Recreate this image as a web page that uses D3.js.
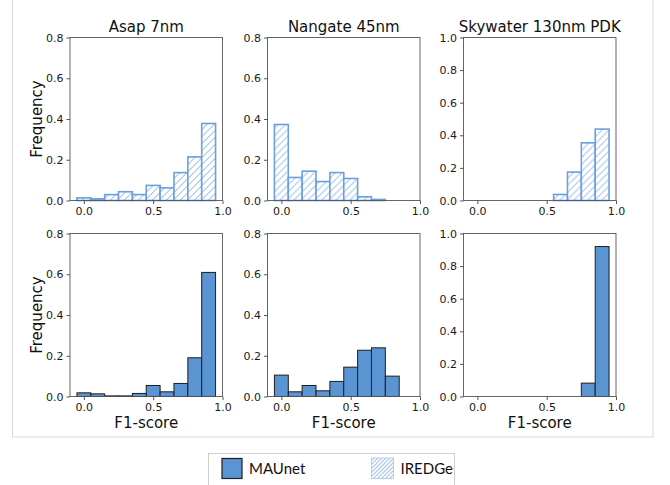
<!DOCTYPE html>
<html>
<head>
<meta charset="utf-8">
<script src="https://cdn.jsdelivr.net/npm/d3@7"></script>
<style>
  html, body { margin: 0; padding: 0; background: #fff; }
  svg { display: block; }
</style>
</head>
<body>
<svg id="fig" width="670" height="485"></svg>
<script>
// Histogram bins: left edges, each 0.1 wide
const binEdges = [-0.05, 0.05, 0.15, 0.25, 0.35, 0.45, 0.55, 0.65, 0.75, 0.85];
const binWidth = 0.1;

const pdks = ["Asap 7nm", "Nangate 45nm", "Skywater 130nm PDK"];
const yMaxByPdk = [0.8, 0.8, 1.0];

// Relative frequency of F1-scores per bin
const iredgeAsap     = [0.013, 0.008, 0.029, 0.043, 0.029, 0.074, 0.062, 0.137, 0.214, 0.378];
const iredgeNangate  = [0.373, 0.113, 0.144, 0.093, 0.137, 0.108, 0.018, 0.005, 0.0, 0.0];
const iredgeSkywater = [0.0, 0.0, 0.0, 0.0, 0.0, 0.0, 0.037, 0.174, 0.354, 0.438];

const maunetAsap     = [0.018, 0.013, 0.003, 0.003, 0.015, 0.054, 0.023, 0.064, 0.190, 0.609];
const maunetNangate  = [0.105, 0.023, 0.054, 0.028, 0.074, 0.144, 0.227, 0.239, 0.100, 0.0];
const maunetSkywater = [0.0, 0.0, 0.0, 0.0, 0.0, 0.0, 0.0, 0.0, 0.082, 0.920];

const xTicks = [0.0, 0.5, 1.0];
const yTicks08 = [0.0, 0.2, 0.4, 0.6, 0.8];
const yTicks10 = [0.0, 0.2, 0.4, 0.6, 0.8, 1.0];

const legendLabels = ["MAUnet", "IREDGe"];

const rows = [
  { model: "IREDGe", series: [iredgeAsap, iredgeNangate, iredgeSkywater] },
  { model: "MAUnet", series: [maunetAsap, maunetNangate, maunetSkywater] }
];

const svg = d3.select("#fig");
const FONT = "DejaVu Sans, sans-serif";
const HATCH = "#6d9fdc";
const FILL = "#5b94d3";

// Hatch patterns for the IREDGe bars and legend swatch
const defs = svg.append("defs");
function hatch(id, color, step, sw) {
  const p = defs.append("pattern")
    .attr("id", id).attr("patternUnits", "userSpaceOnUse")
    .attr("width", step).attr("height", step);
  p.append("rect").attr("width", step).attr("height", step).attr("fill", "#fff");
  p.append("path")
    .attr("d", `M0,${step} L${step},0 M${-step/2},${step/2} L${step/2},${-step/2} M${step/2},${step*1.5} L${step*1.5},${step/2}`)
    .attr("stroke", color).attr("stroke-width", sw);
}
hatch("hatchBar", HATCH, 7, 0.9);
hatch("hatchLegend", "#a9c7ea", 4, 1.2);

// Outer figure frame
svg.append("rect")
  .attr("x", 12.5).attr("y", -2).attr("width", 640.5).attr("height", 439)
  .attr("fill", "none").attr("stroke", "#d9d9d9").attr("stroke-width", 1);

const colLeft = [70, 267.5, 463.5];
const rowTop = [37.5, 233.5];
const axW = 152.5, axH = 163;

rows.forEach((row, ri) => {
  pdks.forEach((pdk, ci) => {
    const g = svg.append("g")
      .attr("transform", `translate(${colLeft[ci]},${rowTop[ri]})`);
    const x = d3.scaleLinear().domain([-0.1, 1.0]).range([0, axW]);
    const y = d3.scaleLinear().domain([0, yMaxByPdk[ci]]).range([axH, 0]);
    const vals = row.series[ci];
    const isHatch = row.model === "IREDGe";

    g.selectAll("rect.bar").data(vals).join("rect")
      .attr("class", "bar")
      .attr("x", (d, i) => x(binEdges[i]))
      .attr("width", (d, i) => x(binEdges[i] + binWidth) - x(binEdges[i]))
      .attr("y", d => y(d))
      .attr("height", d => y(0) - y(d))
      .attr("fill", isHatch ? "url(#hatchBar)" : FILL)
      .attr("stroke", isHatch ? HATCH : "#1e1e1e")
      .attr("stroke-width", isHatch ? 1.6 : 1);

    // Spines
    g.append("rect").attr("width", axW).attr("height", axH)
      .attr("fill", "none").attr("stroke", "#555").attr("stroke-width", 0.9);

    const yt = ci === 2 ? yTicks10 : yTicks08;
    const xAxis = d3.axisBottom(x).tickValues(xTicks).tickFormat(d3.format(".1f"))
      .tickSize(3.5).tickPadding(3);
    const yAxis = d3.axisLeft(y).tickValues(yt).tickFormat(d3.format(".1f"))
      .tickSize(3.5).tickPadding(3);
    const gx = g.append("g").attr("transform", `translate(0,${axH})`).call(xAxis);
    const gy = g.append("g").call(yAxis);
    [gx, gy].forEach(a => {
      a.select(".domain").remove();
      a.selectAll("line").attr("stroke", "#444").attr("stroke-width", 0.9);
      a.selectAll("text").attr("fill", "#1a1a1a").style("font-family", FONT).style("font-size", "11px");
    });

    if (ri === 0) {
      g.append("text").attr("x", axW / 2).attr("y", -5.5)
        .attr("text-anchor", "middle").attr("fill", "#111")
        .style("font-family", FONT).style("font-size", "15px").text(pdk);
    }
    if (ri === 1) {
      g.append("text").attr("x", axW / 2).attr("y", axH + 31.5)
        .attr("text-anchor", "middle").attr("fill", "#111")
        .style("font-family", FONT).style("font-size", "15px").text("F1-score");
    }
    if (ci === 0) {
      g.append("text")
        .attr("transform", `translate(${-28},${axH / 2}) rotate(-90)`)
        .attr("text-anchor", "middle").attr("fill", "#111")
        .style("font-family", FONT).style("font-size", "15px").text("Frequency");
    }
  });
});

// Legend
const lg = svg.append("g");
lg.append("rect").attr("x", 208.5).attr("y", 453.5).attr("width", 246).attr("height", 32)
  .attr("fill", "#fff").attr("stroke", "#d0d0d0").attr("stroke-width", 1);
lg.append("rect").attr("x", 222).attr("y", 458.5).attr("width", 20).attr("height", 20)
  .attr("fill", FILL).attr("stroke", "#1e1e1e").attr("stroke-width", 1.2);
lg.append("text").attr("x", 249).attr("y", 474)
  .style("font-family", "Lato, Carlito, sans-serif").style("font-size", "15px")
  .attr("fill", "#111").text(legendLabels[0]);
lg.append("rect").attr("x", 371.5).attr("y", 458).attr("width", 22).attr("height", 20.5)
  .attr("fill", "url(#hatchLegend)").attr("stroke", "#b4cfee").attr("stroke-width", 1);
lg.append("text").attr("x", 400.5).attr("y", 474)
  .style("font-family", "Lato, Carlito, sans-serif").style("font-size", "15px")
  .attr("fill", "#111").text(legendLabels[1]);
</script>
</body>
</html>
